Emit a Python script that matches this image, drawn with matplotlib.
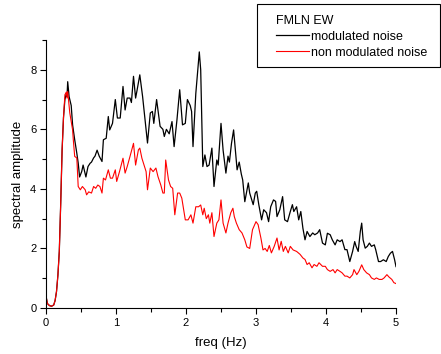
import numpy as np
import matplotlib
matplotlib.use('Agg')
import matplotlib.pyplot as plt
from matplotlib.ticker import MultipleLocator
from matplotlib.patches import Rectangle

plt.rcParams['font.family'] = ['Liberation Sans', 'DejaVu Sans']

# modulated noise (black)
freq_mod = [0.00, 0.02, 0.05, 0.08, 0.11, 0.13, 0.15, 0.17, 0.19, 0.21, 0.23, 0.25, 0.27, 0.29, 0.30,
            0.31, 0.33, 0.36, 0.38, 0.41, 0.44, 0.46, 0.48, 0.51, 0.53, 0.57, 0.60, 0.63, 0.65, 0.68,
            0.70, 0.73, 0.76, 0.80, 0.82, 0.86, 0.89, 0.91, 0.95, 0.99, 1.02, 1.06, 1.10, 1.13, 1.16,
            1.20, 1.22, 1.25, 1.28, 1.30, 1.34, 1.38, 1.41, 1.45, 1.49, 1.52, 1.54, 1.58, 1.63, 1.67,
            1.69, 1.72, 1.76, 1.80, 1.83, 1.87, 1.91, 1.95, 1.99, 2.02, 2.06, 2.08, 2.10, 2.14, 2.19,
            2.21, 2.24, 2.27, 2.30, 2.33, 2.37, 2.40, 2.44, 2.46, 2.50, 2.53, 2.57, 2.60, 2.62, 2.65,
            2.68, 2.71, 2.73, 2.76, 2.79, 2.81, 2.84, 2.89, 2.91, 2.96, 2.99, 3.01, 3.04, 3.08, 3.11,
            3.15, 3.18, 3.21, 3.25, 3.28, 3.30, 3.34, 3.38, 3.41, 3.45, 3.49, 3.52, 3.54, 3.58, 3.61,
            3.64, 3.67, 3.70, 3.73, 3.77, 3.81, 3.84, 3.88, 3.91, 3.95, 3.99, 4.02, 4.06, 4.09, 4.13,
            4.16, 4.20, 4.23, 4.27, 4.30, 4.34, 4.38, 4.41, 4.43, 4.46, 4.49, 4.51, 4.53, 4.56, 4.59,
            4.62, 4.65, 4.69, 4.71, 4.75, 4.78, 4.82, 4.86, 4.89, 4.92, 4.95, 4.98, 5.00]
amp_mod = [0.40, 0.15, 0.08, 0.06, 0.10, 0.25, 0.55, 1.10, 1.90, 3.50, 5.30, 6.40, 7.00, 7.20, 7.10,
           7.60, 7.10, 6.80, 6.15, 5.65, 5.20, 4.87, 4.40, 4.58, 4.80, 4.40, 4.75, 4.86, 4.90, 5.04,
           5.10, 5.30, 5.10, 4.92, 5.65, 5.70, 6.43, 5.98, 6.20, 7.00, 6.38, 6.38, 7.44, 6.65, 7.05,
           7.05, 6.90, 7.78, 7.05, 7.30, 7.83, 7.10, 6.43, 5.54, 6.55, 6.60, 6.20, 7.00, 6.10, 6.00,
           5.76, 6.00, 5.85, 6.26, 5.42, 6.30, 7.33, 6.15, 6.20, 7.00, 6.80, 6.60, 5.42, 7.20, 8.60,
           8.00, 4.75, 5.14, 4.75, 4.80, 5.37, 4.08, 4.97, 4.80, 6.20, 5.30, 4.53, 5.10, 4.90, 5.53,
           5.98, 5.20, 4.64, 4.90, 4.50, 4.30, 3.57, 4.20, 3.86, 3.47, 3.86, 3.92, 3.47, 2.96, 3.30,
           3.20, 2.90, 3.40, 3.63, 3.58, 3.07, 3.30, 3.74, 2.96, 2.90, 3.24, 3.47, 3.24, 3.40, 2.96,
           3.24, 2.68, 2.29, 2.57, 2.40, 2.52, 2.46, 2.52, 2.63, 2.18, 2.12, 2.51, 2.46, 2.29, 2.12,
           2.29, 2.23, 2.29, 1.96, 1.96, 1.56, 1.90, 2.23, 2.07, 1.90, 2.57, 2.85, 2.29, 2.01, 2.07,
           2.18, 2.07, 2.12, 1.96, 1.56, 1.56, 1.62, 1.56, 1.73, 1.84, 1.90, 1.62, 1.39]

# non modulated noise (red)
freq_non = [0.00, 0.02, 0.05, 0.08, 0.11, 0.13, 0.15, 0.17, 0.19, 0.21, 0.23, 0.25, 0.27, 0.29, 0.30,
            0.31, 0.34, 0.38, 0.39, 0.41, 0.44, 0.46, 0.49, 0.52, 0.56, 0.58, 0.61, 0.65, 0.68, 0.71,
            0.74, 0.77, 0.80, 0.82, 0.85, 0.89, 0.92, 0.95, 0.99, 1.01, 1.05, 1.10, 1.13, 1.16, 1.20,
            1.25, 1.28, 1.32, 1.34, 1.37, 1.40, 1.43, 1.45, 1.49, 1.53, 1.57, 1.60, 1.64, 1.67, 1.69,
            1.71, 1.75, 1.78, 1.81, 1.84, 1.88, 1.91, 1.94, 1.99, 2.03, 2.07, 2.10, 2.14, 2.18, 2.21,
            2.24, 2.26, 2.29, 2.32, 2.34, 2.37, 2.40, 2.44, 2.47, 2.50, 2.53, 2.57, 2.60, 2.64, 2.67,
            2.69, 2.72, 2.76, 2.80, 2.84, 2.87, 2.91, 2.95, 3.00, 3.03, 3.07, 3.10, 3.13, 3.16, 3.19,
            3.22, 3.26, 3.30, 3.33, 3.36, 3.39, 3.42, 3.46, 3.49, 3.53, 3.58, 3.63, 3.67, 3.70, 3.73,
            3.76, 3.80, 3.83, 3.87, 3.90, 3.95, 3.99, 4.02, 4.06, 4.10, 4.13, 4.16, 4.20, 4.23, 4.27,
            4.30, 4.34, 4.38, 4.40, 4.44, 4.47, 4.51, 4.54, 4.58, 4.62, 4.65, 4.69, 4.72, 4.76, 4.80,
            4.83, 4.87, 4.90, 4.94, 4.97, 5.00]
amp_non = [0.40, 0.15, 0.08, 0.06, 0.10, 0.25, 0.55, 1.10, 1.90, 3.50, 5.30, 6.40, 7.16, 7.25, 7.05,
           7.27, 6.55, 5.98, 5.65, 5.09, 5.04, 4.08, 3.97, 4.08, 3.97, 3.80, 3.90, 3.86, 4.08, 4.02,
           4.13, 4.08, 3.86, 4.36, 4.30, 4.64, 4.36, 4.36, 4.64, 4.25, 4.58, 5.03, 4.53, 4.75, 5.09,
           5.53, 4.80, 5.31, 5.37, 5.03, 4.80, 4.58, 3.97, 4.70, 4.58, 4.70, 4.41, 4.13, 3.86, 3.86,
           4.97, 4.30, 4.08, 4.02, 3.13, 3.86, 3.86, 3.69, 2.96, 2.96, 3.13, 2.85, 3.40, 3.40, 3.46,
           3.13, 3.35, 3.00, 3.13, 2.85, 3.20, 2.40, 2.85, 2.96, 3.63, 2.85, 2.52, 2.85, 3.20, 3.35,
           3.07, 2.85, 2.63, 2.52, 2.29, 2.05, 2.00, 2.63, 2.90, 2.80, 2.35, 1.95, 2.00, 1.90, 2.10,
           1.85, 2.07, 2.35, 1.95, 2.24, 1.90, 2.07, 1.85, 2.07, 1.95, 1.90, 1.80, 1.68, 1.63, 1.46,
           1.52, 1.35, 1.46, 1.40, 1.52, 1.40, 1.40, 1.29, 1.23, 1.29, 1.18, 1.29, 1.23, 1.18, 1.07,
           1.07, 1.01, 1.12, 1.29, 1.12, 1.23, 1.45, 1.29, 1.18, 1.12, 1.01, 0.96, 1.01, 0.96, 0.96,
           1.01, 1.12, 1.04, 0.96, 0.85, 0.82]

W, H = 441, 354
fig = plt.figure(figsize=(W/100, H/100), dpi=100)
ax = fig.add_axes([46/W, 46/H, 350/W, 268/H])

ax.plot(freq_mod, amp_mod, color='black', lw=0.9, label='modulated noise')
ax.plot(freq_non, amp_non, color='red', lw=0.8, label='non modulated noise')

ax.set_xlim(0, 5)
ax.set_ylim(0, 9)
ax.xaxis.set_major_locator(MultipleLocator(1))
ax.xaxis.set_minor_locator(MultipleLocator(0.5))
ax.yaxis.set_major_locator(MultipleLocator(2))
ax.yaxis.set_minor_locator(MultipleLocator(1))
ax.tick_params(which='major', direction='out', length=4, width=0.8, labelsize=8, pad=3)
ax.tick_params(which='minor', direction='out', length=3, width=0.8)
ax.spines['top'].set_visible(False)
ax.spines['right'].set_visible(False)
ax.spines['left'].set_linewidth(0.8)
ax.spines['bottom'].set_linewidth(0.8)

ax.set_xlabel('freq (Hz)', fontsize=9.5, labelpad=7)
ax.set_ylabel('spectral amplitude', fontsize=9.5, labelpad=4)

# legend box drawn by hand (wider on the left, like the original)
fig.patches.append(Rectangle((257/W, 1 - 66.5/H), 183/W, 62/H, transform=fig.transFigure,
                             fill=False, edgecolor='black', linewidth=0.8))
leg = fig.legend(loc='upper left', bbox_to_anchor=(270/W, 1 - 8.5/H), title='FMLN EW',
                 fontsize=9.0, title_fontsize=9.0, frameon=False, borderpad=0,
                 handlelength=2.6, handletextpad=0.2, labelspacing=0.32, alignment='left')

fig.savefig('out.png', dpi=100)
